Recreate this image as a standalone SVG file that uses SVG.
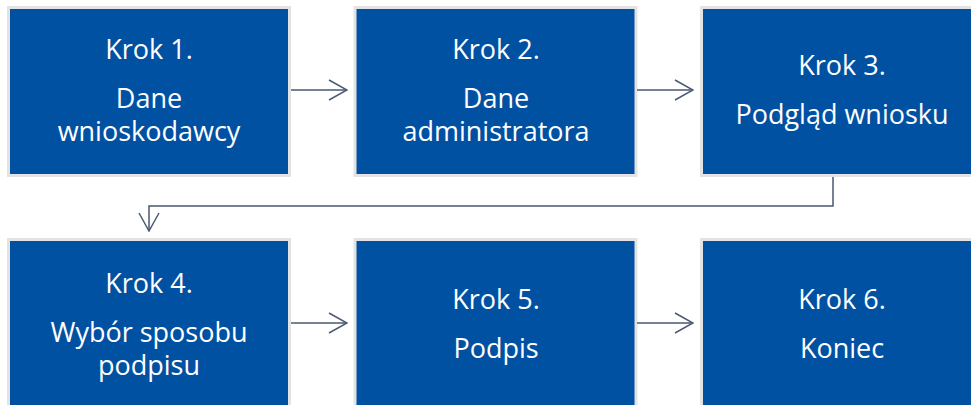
<svg xmlns="http://www.w3.org/2000/svg" width="971" height="405" viewBox="0 0 971 405">
<style>
.box{fill:#0151A3;stroke:#E3E3E3;stroke-width:3}
.t{font-family:"Open Sans","Liberation Sans",Arial,sans-serif;font-size:27px;fill:#FFFFFF;text-anchor:middle}
.c{fill:none;stroke:#4A5A70;stroke-width:1.5}
</style>
<defs>
<marker id="ah" viewBox="0 0 20 22" refX="19" refY="11" markerWidth="20" markerHeight="22" markerUnits="userSpaceOnUse" orient="auto">
<path d="M1,1 L19,11 L1,21" fill="none" stroke="#4A5A70" stroke-width="1.5"/>
</marker>
</defs>
<rect width="971" height="405" fill="#FFFFFF"/>
<g id="krok1">
<rect class="box" x="8.5" y="7.5" width="281" height="168"/>
<text class="t" x="149" y="59">Krok 1.</text>
<text class="t" x="149" y="108">Dane</text>
<text class="t" x="149" y="141">wnioskodawcy</text>
</g>
<g id="krok2">
<rect class="box" x="355" y="7.5" width="281" height="168"/>
<text class="t" x="496" y="59">Krok 2.</text>
<text class="t" x="496" y="108">Dane</text>
<text class="t" x="496" y="141">administratora</text>
</g>
<g id="krok3">
<rect class="box" x="701.5" y="7.5" width="281" height="168"/>
<text class="t" x="842" y="75">Krok 3.</text>
<text class="t" x="842" y="124">Podgląd wniosku</text>
</g>
<g id="krok4">
<rect class="box" x="8.5" y="239.5" width="281" height="168"/>
<text class="t" x="149" y="293">Krok 4.</text>
<text class="t" x="149" y="342">Wybór sposobu</text>
<text class="t" x="149" y="375">podpisu</text>
</g>
<g id="krok5">
<rect class="box" x="355" y="239.5" width="281" height="168"/>
<text class="t" x="496" y="309">Krok 5.</text>
<text class="t" x="496" y="358">Podpis</text>
</g>
<g id="krok6">
<rect class="box" x="701.5" y="239.5" width="281" height="168"/>
<text class="t" x="842" y="309">Krok 6.</text>
<text class="t" x="842" y="358">Koniec</text>
</g>
<g id="connectors">
<path class="c" d="M291,90 L347,90" marker-end="url(#ah)"/>
<path class="c" d="M637,90 L693,90" marker-end="url(#ah)"/>
<path class="c" d="M833,177 L833,206 L149,206 L149,231" marker-end="url(#ah)"/>
<path class="c" d="M291,323 L347,323" marker-end="url(#ah)"/>
<path class="c" d="M637,323 L693,323" marker-end="url(#ah)"/>
</g>
</svg>
